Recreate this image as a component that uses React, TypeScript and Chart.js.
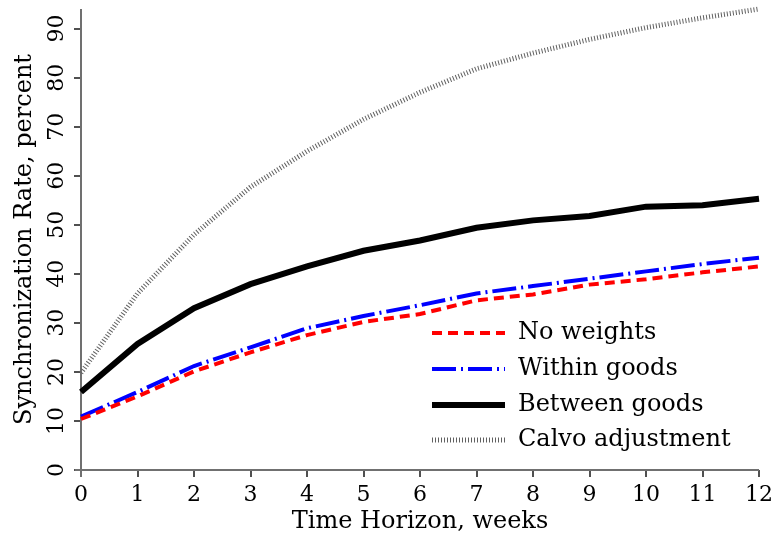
import React, { useEffect, useRef } from "react";
import { Chart, registerables } from "chart.js";

Chart.register(...registerables);

const weeks = [0, 1, 2, 3, 4, 5, 6, 7, 8, 9, 10, 11, 12];
const noWeights = [10.4, 15.0, 20.1, 24.0, 27.5, 30.2, 31.8, 34.6, 35.8, 37.8, 38.9, 40.3, 41.5];
const withinGoods = [10.9, 15.9, 21.2, 25.0, 28.9, 31.4, 33.6, 36.0, 37.5, 39.0, 40.5, 42.0, 43.3];
const betweenGoods = [15.9, 25.7, 33.0, 37.9, 41.5, 44.7, 46.8, 49.4, 50.9, 51.8, 53.7, 54.0, 55.3];
const calvo = [19.8, 36.0, 48.0, 57.7, 65.0, 71.5, 77.0, 81.8, 85.0, 87.8, 90.2, 92.2, 94.0];
const seriesNames = ["No weights", "Within goods", "Between goods", "Calvo adjustment"];
const yTicks = [0, 10, 20, 30, 40, 50, 60, 70, 80, 90];

const FONT = "'DejaVu Serif', serif";

const axisLinesPlugin = {
  id: "axisLines",
  beforeDatasetsDraw(chart: any) {
    const { ctx, chartArea } = chart;
    const { left, right, top, bottom } = chartArea;
    ctx.save();
    ctx.strokeStyle = "#707070";
    ctx.lineWidth = 2;
    ctx.beginPath();
    ctx.moveTo(left - 6, bottom);
    ctx.lineTo(right, bottom);
    ctx.moveTo(left, bottom + 7);
    ctx.lineTo(left, top);
    ctx.stroke();
    ctx.restore();
  },
};

const legendPlugin = {
  id: "customLegend",
  afterDatasetsDraw(chart: any) {
    const { ctx } = chart;
    const x0 = 432;
    const x1 = 505;
    const tx = 518;
    const rows = [333, 369, 405, 440];
    ctx.save();
    chart.data.datasets.forEach((ds: any, i: number) => {
      const y = rows[i];
      ctx.beginPath();
      ctx.strokeStyle = ds.borderColor;
      ctx.lineWidth = ds.borderWidth;
      ctx.setLineDash(ds.borderDash || []);
      ctx.lineCap = "butt";
      ctx.moveTo(x0, y);
      ctx.lineTo(x1, y);
      ctx.stroke();
      ctx.setLineDash([]);
      ctx.fillStyle = "#000";
      ctx.font = "24px " + FONT;
      ctx.textBaseline = "middle";
      ctx.textAlign = "left";
      ctx.fillText(ds.label, tx, y);
    });
    ctx.restore();
  },
};

export default function App() {
  const ref = useRef<HTMLCanvasElement | null>(null);
  useEffect(() => {
    if (!ref.current) return;
    const mk = (vals: number[]) => weeks.map((w, i) => ({ x: w, y: vals[i] }));
    const chart = new Chart(ref.current, {
      type: "line",
      data: {
        datasets: [
          {
            label: seriesNames[0],
            data: mk(noWeights),
            borderColor: "#ff0000",
            borderWidth: 4,
            borderDash: [10, 6],
            pointRadius: 0,
            tension: 0,
            clip: false,
          },
          {
            label: seriesNames[1],
            data: mk(withinGoods),
            borderColor: "#0000ff",
            borderWidth: 4,
            borderDash: [24, 5, 2, 5],
            pointRadius: 0,
            tension: 0,
            clip: false,
          },
          {
            label: seriesNames[2],
            data: mk(betweenGoods),
            borderColor: "#000000",
            borderWidth: 6,
            pointRadius: 0,
            tension: 0,
            clip: false,
          },
          {
            label: seriesNames[3],
            data: mk(calvo),
            borderColor: "#606060",
            borderWidth: 5,
            borderDash: [1, 2],
            pointRadius: 0,
            tension: 0,
            clip: false,
          },
        ] as any,
      },
      options: {
        animation: false,
        responsive: false,
        layout: { padding: { left: 0, right: 0, top: 9, bottom: 0 } },
        plugins: { legend: { display: false }, tooltip: { enabled: false } },
        scales: {
          x: {
            type: "linear",
            min: 0,
            max: 12,
            border: { display: false },
            grid: { drawOnChartArea: false, drawTicks: true, tickLength: 7, color: "#505050", lineWidth: 2 },
            ticks: {
              stepSize: 1,
              autoSkip: false,
              color: "#000",
              font: { family: FONT, size: 22 },
              padding: 5,
              maxRotation: 0,
              callback: (v: any) => String(v),
            },
            title: {
              display: true,
              text: "Time Horizon, weeks",
              color: "#000",
              font: { family: FONT, size: 24 },
              padding: { top: 0, bottom: 0 },
            },
            afterFit: (s: any) => {
              s.height = 66;
              s.paddingRight = 15;
            },
          },
          y: {
            type: "linear",
            min: 0,
            max: 94,
            border: { display: false },
            grid: { drawOnChartArea: false, drawTicks: true, tickLength: 7, color: "#505050", lineWidth: 2 },
            afterBuildTicks: (s: any) => {
              s.ticks = yTicks.map((v) => ({ value: v }));
            },
            ticks: {
              autoSkip: false,
              includeBounds: false,
              minRotation: 90,
              maxRotation: 90,
              crossAlign: "center",
              color: "#000",
              font: { family: FONT, size: 22 },
              padding: 3,
              callback: (v: any) => String(v),
            },
            title: {
              display: true,
              text: "Synchronization Rate, percent",
              color: "#000",
              font: { family: FONT, size: 24 },
              padding: { top: 10, bottom: 0 },
            },
            afterFit: (s: any) => {
              s.width = 81;
              s.paddingTop = 0;
              s.paddingBottom = 0;
            },
          },
        },
      } as any,
      plugins: [axisLinesPlugin, legendPlugin],
    });
    return () => chart.destroy();
  }, []);
  return (
    <div style={{ position: "absolute", left: 0, top: 0, width: 774, height: 536, background: "#fff" }}>
      <canvas ref={ref} width={774} height={536} style={{ display: "block" }} />
    </div>
  );
}
